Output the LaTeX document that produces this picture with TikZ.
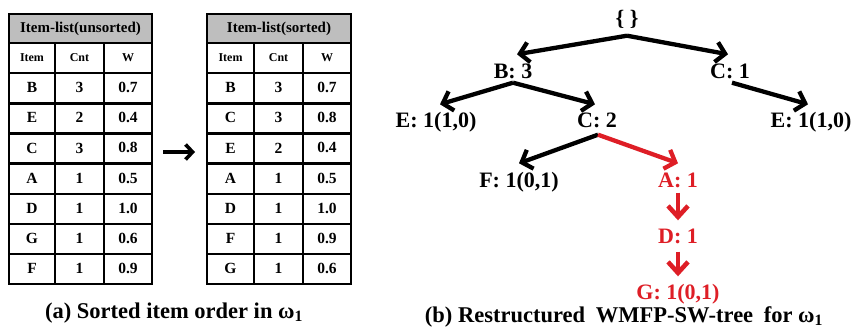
\documentclass[tikz,border=0pt]{standalone}
\usepackage{fontspec}
\setmainfont{Liberation Serif}
\usetikzlibrary{arrows.meta}
\definecolor{hdrgray}{RGB}{190,190,190}
\definecolor{pathred}{RGB}{222,30,38}
\tikzset{
  tbl/.style={line width=2.4pt, line cap=rect},
  titletxt/.style={font=\bfseries\fontsize{15}{17}\selectfont, inner sep=0pt},
  headtxt/.style={font=\bfseries\fontsize{12}{14}\selectfont, inner sep=0pt},
  celltxt/.style={font=\bfseries\fontsize{15.5}{17}\selectfont, inner sep=0pt},
  treetxt/.style={font=\bfseries\fontsize{22}{24}\selectfont, text height=15pt, text depth=4pt, inner xsep=2pt, inner ysep=9pt},
  redtxt/.style={treetxt, text=pathred},
  captxt/.style={font=\bfseries\fontsize{22.5}{24}\selectfont, inner sep=0pt},
  arr/.style={line width=4.3pt, -{Straight Barb[length=9pt,width=20pt]}},
  redarr/.style={arr, draw=pathred},
  vredarr/.style={line width=4.6pt, draw=pathred, -{Straight Barb[length=11pt,width=20pt]}},
}
\newcommand{\itemtable}[7]{%
  \fill[hdrgray] (#2,14) rectangle (#5,43);
  \node[titletxt] (#1-title) at ({(#2+#5)/2},28.5) {#6};
  \node[headtxt] (#1-hi) at ({(#2+#3)/2},57.5) {Item};
  \node[headtxt] (#1-hc) at ({(#3+#4)/2},57.5) {Cnt};
  \node[headtxt] (#1-hw) at ({(#4+#5)/2},57.5) {W};
  \foreach \ia/\ib/\ic [count=\k] in {#7} {
    \node[celltxt] (#1-i\k) at ({(#2+#3)/2},{57.5+30.15*\k}) {\ia};
    \node[celltxt] (#1-c\k) at ({(#3+#4)/2},{57.5+30.15*\k}) {\ib};
    \node[celltxt] (#1-w\k) at ({(#4+#5)/2},{57.5+30.15*\k}) {\ic};
  }
  \foreach \k in {0,...,8} \draw[tbl] (#2,{43+30.15*\k}) -- (#5,{43+30.15*\k});
  \draw[tbl] (#2,14) rectangle (#5,284.2);
  \draw[tbl] (#3,43) -- (#3,284.2);
  \draw[tbl] (#4,43) -- (#4,284.2);
}
\begin{document}
\begin{tikzpicture}[x=1pt,y=-1pt]
\useasboundingbox (0,0) rectangle (853,329);
% tables
\itemtable{ta}{9}{55}{104}{152}{Item-list(unsorted)}{B/3/0.7,E/2/0.4,C/3/0.8,A/1/0.5,D/1/1.0,G/1/0.6,F/1/0.9}
\itemtable{tb}{207}{254}{303}{351}{Item-list(sorted)}{B/3/0.7,C/3/0.8,E/2/0.4,A/1/0.5,D/1/1.0,F/1/0.9,G/1/0.6}
\coordinate (mida) at (163,152);
\coordinate (midb) at (195,152);
\draw[line width=3.6pt, -{Straight Barb[length=7pt,width=15pt]}] (mida) -- (midb);
% tree
\node[treetxt] (root) at (627,20) {\{ \}};
\node[treetxt] (b3) at (513,73) {B: 3};
\node[treetxt] (c1) at (730,73) {C: 1};
\node[treetxt] (e1) at (436,122) {E: 1(1,0)};
\node[treetxt] (c2) at (597,122) {C: 2};
\node[treetxt] (e2) at (811,122) {E: 1(1,0)};
\node[treetxt] (f1) at (519,182) {F: 1(0,1)};
\node[redtxt] (a1) at (678,182) {A: 1};
\node[redtxt] (d1) at (678,238) {D: 1};
\node[redtxt] (g1) at (678,294) {G: 1(0,1)};
\draw[arr] ([yshift=3pt]root.south) -- ([xshift=4pt]b3.north);
\draw[arr] ([yshift=3pt]root.south) -- ([xshift=-2pt]c1.north);
\draw[arr] ([yshift=9pt]b3.south) -- ([xshift=4pt,yshift=-1pt]e1.north);
\draw[arr] ([yshift=9pt]b3.south) -- ([xshift=-2pt,yshift=-1pt]e1.north -| c2.north);
\draw[arr] ([xshift=2pt,yshift=9pt]c1.south) -- ([xshift=-3pt,yshift=-1pt]e2.north);
\draw[arr] ([xshift=1pt,yshift=6pt]c2.south) -- (f1.north);
\draw[redarr] ([xshift=1pt,yshift=6pt]c2.south) -- (a1.north);
\draw[vredarr] ([yshift=8pt]a1.south) -- ([yshift=-1pt]d1.north);
\draw[vredarr] ([yshift=5pt]d1.south) -- ([yshift=-1pt]g1.north);
% captions
\node[captxt] (capa) at (174,313) {(a) Sorted item order in ω\textsubscript{1}};
\node[captxt] (capb) at (624,317) {(b) Restructured\hspace{5pt} WMFP-SW-tree\hspace{5pt} for ω\textsubscript{1}};
\end{tikzpicture}
\end{document}
